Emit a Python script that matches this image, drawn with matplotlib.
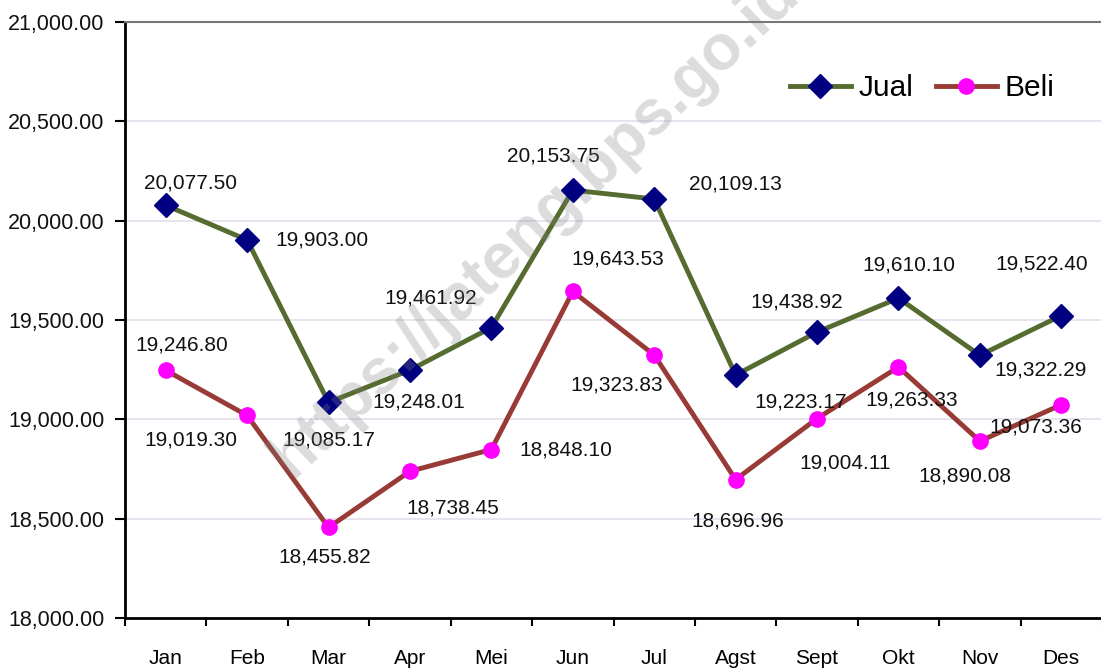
import matplotlib
matplotlib.use("Agg")
import matplotlib.pyplot as plt
import numpy as np
from matplotlib.ticker import FuncFormatter, FixedLocator

months = ["Jan", "Feb", "Mar", "Apr", "Mei", "Jun", "Jul", "Agst", "Sept", "Okt", "Nov", "Des"]
jual = [20077.50, 19903.00, 19085.17, 19248.01, 19461.92, 20153.75, 20109.13, 19223.17, 19438.92, 19610.10, 19322.29, 19522.40]
beli = [19246.80, 19019.30, 18455.82, 18738.45, 18848.10, 19643.53, 19323.83, 18696.96, 19004.11, 19263.33, 18890.08, 19073.36]

# label offsets in pixels (dx, dy) relative to point
jual_off = [(25, 22), (75, 0), (0, -38), (9, -32), (-61, 30), (-19, 34), (81, 15), (65, -27), (-20, 30), (10, 33), (61, -15), (-20, 52)]
beli_off = [(16, 25), (-56, -25), (-4, -30), (43, -37), (74, 0), (45, 32), (-38, -30), (2, -41), (28, -44), (13, -33), (-15, -35), (-25, -22)]

FONT = "Liberation Sans"
plt.rcParams['font.family'] = [FONT, 'DejaVu Sans']

W, H = 1101, 671
fig = plt.figure(figsize=(W / 100, H / 100), dpi=100)
ax = fig.add_axes([125 / W, 1 - 618 / H, (1102 - 125) / W, (618 - 22) / H])

x = np.arange(len(months))
ax.set_xlim(-0.5, len(months) - 0.5)
ax.set_ylim(18000, 21000)

ax.yaxis.set_major_locator(FixedLocator(np.arange(18000, 21001, 500)))
ax.yaxis.set_major_formatter(FuncFormatter(lambda v, p: f"{v:,.2f}"))
ax.grid(axis='y', color='#e3dfec', lw=1.2, zorder=0)

ax.plot(x, jual, color='#556b2f', lw=3.5, marker='D', markersize=12,
        markerfacecolor='#000080', markeredgecolor='#000080', label='Jual', zorder=3)
ax.plot(x, beli, color='#983a36', lw=3.5, marker='o', markersize=11,
        markerfacecolor='#ff00ff', markeredgecolor='#ff00ff', label='Beli', zorder=3)

for xi, v, (dx, dy) in zip(x, jual, jual_off):
    ax.annotate(f"{v:,.2f}", (xi, v), xytext=(dx * 0.72, dy * 0.72), textcoords='offset points',
                ha='center', va='center', fontsize=15, color='#111111', zorder=4)
for xi, v, (dx, dy) in zip(x, beli, beli_off):
    ax.annotate(f"{v:,.2f}", (xi, v), xytext=(dx * 0.72, dy * 0.72), textcoords='offset points',
                ha='center', va='center', fontsize=15, color='#111111', zorder=4)

ax.set_xticks(x)
ax.set_xticklabels(months)
ax.set_xticks(np.arange(-0.5, len(months), 1), minor=True)
ax.tick_params(axis='x', which='major', length=0, pad=22, labelsize=15)
ax.tick_params(axis='x', which='minor', length=6, width=1.5, color='black', direction='out')
ax.tick_params(axis='y', length=7, width=1.5, pad=8, labelsize=15.5, labelcolor='#111111')

for s in ['left', 'bottom']:
    ax.spines[s].set_color('black')
    ax.spines[s].set_linewidth(2)
ax.spines['top'].set_color('#777777')
ax.spines['top'].set_linewidth(1.5)
ax.spines['right'].set_visible(False)

leg = ax.legend(loc='center right', bbox_to_anchor=((1066 - 125) / 977, 1 - (88 - 22) / 596),
                borderaxespad=0, ncol=2, frameon=False,
                fontsize=21.5, handlelength=2.05, columnspacing=0.75, handletextpad=0.25)

# watermark
fig.text(535 / W, 1 - 225 / H, "https://jateng.bps.go.id", rotation=43.5, rotation_mode='anchor',
         ha='center', va='center', fontsize=46, fontweight='bold', color='gray', alpha=0.28, zorder=10)

fig.savefig("out.png", dpi=100)
